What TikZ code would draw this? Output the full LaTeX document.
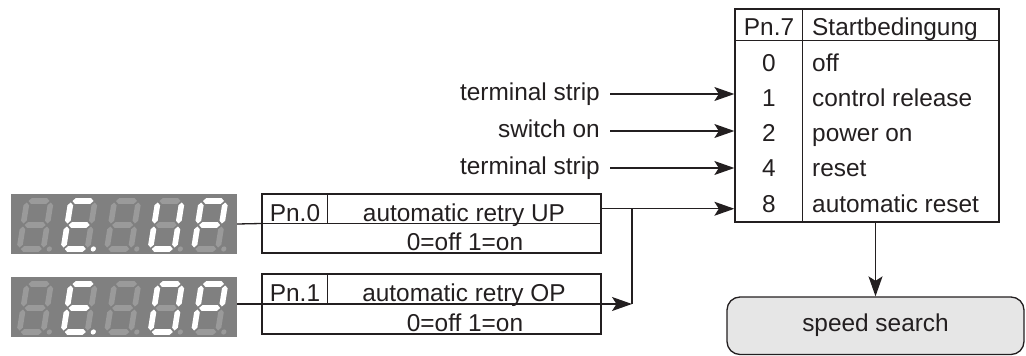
\documentclass[tikz,border=0pt]{standalone}
\usepackage{fontspec}
\setmainfont{Liberation Sans}
\usetikzlibrary{arrows.meta}
\definecolor{ink}{HTML}{231F20}
\definecolor{dispbg}{HTML}{808080}
\definecolor{segoff}{HTML}{9A9A9A}
\definecolor{boxfill}{HTML}{E6E6E6}
% hexagonal segments
\newcommand\dhseg[3]{(#1,#3) -- ({#1+2.8},{#3-2.8}) -- ({#2-2.8},{#3-2.8}) -- (#2,#3) -- ({#2-2.8},{#3+2.8}) -- ({#1+2.8},{#3+2.8}) -- cycle }
\newcommand\dvseg[3]{(#1,#2) -- ({#1+2.8},{#2+2.8}) -- ({#1+2.8},{#3-2.8}) -- (#1,#3) -- ({#1-2.8},{#3-2.8}) -- ({#1-2.8},{#2+2.8}) -- cycle }
\newcommand\segA{\dhseg{1.5}{22.5}{0}}
\newcommand\segB{\dvseg{24}{1.5}{22.5}}
\newcommand\segC{\dvseg{24}{25.5}{46.5}}
\newcommand\segD{\dhseg{1.5}{22.5}{48}}
\newcommand\segE{\dvseg{0}{25.5}{46.5}}
\newcommand\segF{\dvseg{0}{1.5}{22.5}}
\newcommand\segG{\dhseg{1.5}{22.5}{24}}
\newcommand\segP{(30,48) circle[radius=2.6]}
\newcommand\sevenseg[4]{%
  \begin{scope}[shift={(#1,#2)},xslant=0.16]
    \fill[segoff] \segA \segB \segC \segD \segE \segF \segG;
    \fill[#4] \segP;
    \fill[white] #3;
  \end{scope}}
\tikzset{
  txt/.style={font=\fontsize{24.4}{28}\selectfont, text=ink, inner sep=0pt, text height=17pt, text depth=5pt},
  frame/.style={draw=ink, line width=1.3pt, inner sep=0pt},
  conn/.style={draw=ink, line width=1.3pt},
  arr/.style={conn, -{Stealth[length=20pt,width=14pt,inset=4.5pt]}},
  disp/.style={fill=dispbg, minimum width=226pt, minimum height=60pt, inner sep=0pt}
}
\begin{document}
\begin{tikzpicture}[x=1pt,y=-1pt]
\useasboundingbox (0,0) rectangle (1026,356);

% ---------- displays ----------
\node[disp] (d1) at (124,224) {};
\sevenseg{27}{201}{(0,0)}{segoff}
\sevenseg{71}{201}{\segA \segD \segE \segF \segG}{white}
\sevenseg{114.5}{201}{(0,0)}{segoff}
\sevenseg{158}{201}{\segB \segC \segD \segE \segF}{segoff}
\sevenseg{201.5}{201}{\segA \segB \segE \segF \segG}{segoff}

\node[disp] (d2) at (124,307) {};
\sevenseg{27}{284}{(0,0)}{segoff}
\sevenseg{71}{284}{\segA \segD \segE \segF \segG}{white}
\sevenseg{114.5}{284}{(0,0)}{segoff}
\sevenseg{158}{284}{\segA \segB \segC \segD \segE \segF}{segoff}
\sevenseg{201.5}{284}{\segA \segB \segE \segF \segG}{segoff}

% ---------- parameter boxes ----------
\node[frame, minimum width=339pt, minimum height=59pt] (b0) at (431.5,223.5) {};
\draw[conn] (b0.west) -- (b0.east);
\draw[conn] (b0.north west) ++(66,0) -- ++(0,29.5);
\node[txt] (p0) at (295,215) {Pn.0};
\node[txt] (a0) at (464,215) {automatic retry UP};
\node[txt] (o0) at (465,244) {0=off 1=on};

\node[frame, minimum width=339pt, minimum height=60pt] (b1) at (431.5,304) {};
\draw[conn] (b1.west) -- (b1.east);
\draw[conn] (b1.north west) ++(66,0) -- ++(0,30);
\node[txt] (p1) at (295,295) {Pn.1};
\node[txt] (a1) at (464,295) {automatic retry OP};
\node[txt] (o1) at (465,325) {0=off 1=on};

\draw[conn] (d1.east) -- (b0.west);
\draw[conn] (d2.east |- b1.west) -- (b1.west);

% ---------- Pn.7 table ----------
\node[frame, minimum width=264pt, minimum height=213pt] (tab) at (867,115.5) {};
\draw[conn] (tab.north west) ++(0,32) -- ++(264,0);
\draw[conn] (tab.north west) ++(68,0) -- ++(0,213);
\node[txt] (h1) at (769,29) {Pn.7};
\node[txt, anchor=west] (h2) at (812,29) {Startbedingung};
\node[txt] (n0) at (769,65) {0};
\node[txt, anchor=west] (t0) at (812,65) {off};
\node[txt] (n1) at (769,100) {1};
\node[txt, anchor=west] (t1) at (812,100) {control release};
\node[txt] (n2) at (769,135) {2};
\node[txt, anchor=west] (t2) at (812,135) {power on};
\node[txt] (n4) at (769,170) {4};
\node[txt, anchor=west] (t4) at (812,170) {reset};
\node[txt] (n8) at (769,206) {8};
\node[txt, anchor=west] (t8) at (812,206) {automatic reset};

% ---------- inputs ----------
\node[txt, anchor=east] (l1) at (600,94) {terminal strip};
\node[txt, anchor=east] (l2) at (600,131) {switch on};
\node[txt, anchor=east] (l3) at (600,168) {terminal strip};
\draw[arr] ([xshift=10pt]l1.east) -- (l1.east -| tab.west);
\draw[arr] ([xshift=10pt]l2.east) -- (l2.east -| tab.west);
\draw[arr] ([xshift=10pt]l3.east) -- (l3.east -| tab.west);

\coordinate (j) at (632,208.75);
\draw[arr] ([yshift=14.75pt]b0.east) -- (j -| tab.west);
\draw[conn] (j) -- (j |- b1.east);
\draw[arr] (b1.east) -- (j |- b1.east);

% ---------- speed search ----------
\node[frame, rounded corners=13pt, fill=boxfill, minimum width=297pt, minimum height=57.5pt, txt] (ss) at (875.5,325.75) {speed search};
\draw[arr] (ss.north |- tab.south) -- (ss.north);
\end{tikzpicture}
\end{document}
